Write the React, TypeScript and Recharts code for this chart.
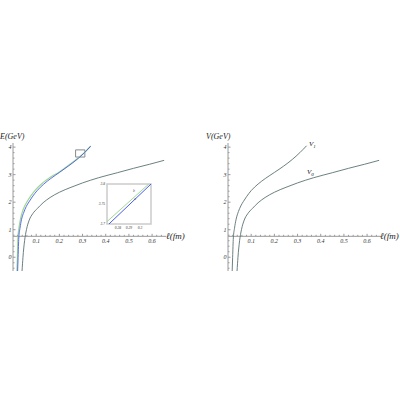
import React from 'react';
import { LineChart, Line, XAxis, YAxis, ReferenceLine, ReferenceArea } from 'recharts';

// separation l (fm) against energy (GeV)
const lengthLabels = [0.1, 0.2, 0.3, 0.4, 0.5, 0.6];
const lengthMinor = [
  0.02, 0.04, 0.06, 0.08, 0.1, 0.12, 0.14, 0.16, 0.18, 0.2, 0.22, 0.24, 0.26, 0.28, 0.3, 0.32,
  0.34, 0.36, 0.38, 0.4, 0.42, 0.44, 0.46, 0.48, 0.5, 0.52, 0.54, 0.56, 0.58, 0.6, 0.62, 0.64,
];
const energyLabels = [0, 1, 2, 3, 4];
const energyMinor = [
  -0.4, -0.2, 0, 0.2, 0.4, 0.6, 0.8, 1, 1.2, 1.4, 1.6, 1.8, 2, 2.2, 2.4, 2.6, 2.8, 3, 3.2, 3.4,
  3.6, 3.8, 4,
];

const v0Curve = [
  { l: 0.039, e: -0.5 }, { l: 0.043, e: 0 }, { l: 0.05, e: 0.6 }, { l: 0.058, e: 1.0 },
  { l: 0.07, e: 1.35 }, { l: 0.085, e: 1.58 }, { l: 0.105, e: 1.77 }, { l: 0.13, e: 1.98 },
  { l: 0.16, e: 2.17 }, { l: 0.2, e: 2.36 }, { l: 0.25, e: 2.54 }, { l: 0.3, e: 2.7 },
  { l: 0.37, e: 2.89 }, { l: 0.45, e: 3.07 }, { l: 0.52, e: 3.23 }, { l: 0.59, e: 3.38 },
  { l: 0.652, e: 3.52 },
];
const v1Curve = [
  { l: 0.018, e: -0.5 }, { l: 0.02, e: 0 }, { l: 0.023, e: 0.7 }, { l: 0.028, e: 1.05 },
  { l: 0.035, e: 1.38 }, { l: 0.045, e: 1.66 }, { l: 0.055, e: 1.86 }, { l: 0.066, e: 2.02 },
  { l: 0.08, e: 2.2 }, { l: 0.1, e: 2.42 }, { l: 0.13, e: 2.66 }, { l: 0.161, e: 2.86 },
  { l: 0.2, e: 3.08 }, { l: 0.24, e: 3.31 }, { l: 0.277, e: 3.55 }, { l: 0.31, e: 3.8 },
  { l: 0.339, e: 4.05 },
];
const blueCurve = [
  { l: 0.02, e: -0.5 }, { l: 0.022, e: 0 }, { l: 0.025, e: 0.7 }, { l: 0.03, e: 1.05 },
  { l: 0.037, e: 1.38 }, { l: 0.047, e: 1.64 }, { l: 0.057, e: 1.84 }, { l: 0.069, e: 2.01 },
  { l: 0.083, e: 2.19 }, { l: 0.103, e: 2.41 }, { l: 0.133, e: 2.66 }, { l: 0.163, e: 2.86 },
  { l: 0.2, e: 3.08 }, { l: 0.24, e: 3.32 }, { l: 0.277, e: 3.56 }, { l: 0.31, e: 3.81 },
  { l: 0.335, e: 4.03 },
];
const greenCurve = [
  { l: 0.017, e: -0.5 }, { l: 0.019, e: 0 }, { l: 0.021, e: 0.7 }, { l: 0.026, e: 1.08 },
  { l: 0.033, e: 1.42 }, { l: 0.042, e: 1.69 }, { l: 0.052, e: 1.89 }, { l: 0.063, e: 2.05 },
  { l: 0.077, e: 2.23 }, { l: 0.097, e: 2.45 }, { l: 0.128, e: 2.7 }, { l: 0.158, e: 2.89 },
  { l: 0.2, e: 3.1 }, { l: 0.24, e: 3.34 }, { l: 0.277, e: 3.58 }, { l: 0.31, e: 3.82 },
  { l: 0.335, e: 4.04 },
];

const insetLengthLabels = [0.28, 0.29, 0.3];
const insetEnergyLabels = [3.7, 3.75, 3.8];
const insetGreen = [{ l: 0.27, e: 3.706 }, { l: 0.308, e: 3.8 }];
const insetBlue = [{ l: 0.2718, e: 3.7 }, { l: 0.31, e: 3.8 }];

const L_DOMAIN: [number, number] = [0, 0.66];
const E_DOMAIN: [number, number] = [-0.5, 4.15];
const AXIS_CROSS = 0.76;
const PLOT_W = 153;
const PLOT_H = 128;
const PLOT_TOP = 143;
const Y_AXIS_W = 13;

const AXIS_COLOR = '#9a9a9a';
const CURVE_COLOR = '#5b7272';
const BLUE = '#4a5ce6';
const GREEN = '#9fd890';
const FONT = '"Liberation Serif", "DejaVu Serif", serif';

const axisY =
  PLOT_TOP + ((E_DOMAIN[1] - AXIS_CROSS) / (E_DOMAIN[1] - E_DOMAIN[0])) * PLOT_H;

function LengthTick(props: any) {
  const { x, payload } = props;
  const major = lengthLabels.includes(payload.value);
  return (
    <g>
      <line x1={x} x2={x} y1={axisY} y2={axisY - (major ? 2.5 : 1.5)} stroke={AXIS_COLOR} />
      {major && (
        <text x={x} y={axisY + 7} textAnchor="middle" fontSize={6} fontStyle="italic" fontFamily={FONT} fill="#333">
          {payload.value}
        </text>
      )}
    </g>
  );
}

function EnergyTick(props: any) {
  const { x, y, payload } = props;
  const major = energyLabels.includes(payload.value);
  return (
    <g>
      <line x1={x} x2={x + (major ? 2.5 : 1.5)} y1={y} y2={y} stroke={AXIS_COLOR} />
      {major && (
        <text x={x - 1.5} y={y + 2} textAnchor="end" fontSize={6} fontStyle="italic" fontFamily={FONT} fill="#333">
          {payload.value}
        </text>
      )}
    </g>
  );
}

function Panel({ children }: { children: React.ReactNode }) {
  return (
    <LineChart
      width={Y_AXIS_W + PLOT_W + 20}
      height={PLOT_TOP + PLOT_H + 1}
      margin={{ top: PLOT_TOP, right: 20, bottom: 0, left: 0 }}
    >
      <XAxis
        type="number"
        dataKey="l"
        domain={L_DOMAIN}
        ticks={lengthMinor}
        interval={0}
        allowDataOverflow
        axisLine={false}
        tickLine={false}
        height={1}
        tick={<LengthTick />}
      />
      <YAxis
        type="number"
        dataKey="e"
        domain={E_DOMAIN}
        ticks={energyMinor}
        interval={0}
        allowDataOverflow
        width={Y_AXIS_W}
        tickSize={0}
        tickMargin={0}
        axisLine={{ stroke: AXIS_COLOR }}
        tick={<EnergyTick />}
      />
      <ReferenceLine y={AXIS_CROSS} stroke={AXIS_COLOR} />
      {children}
    </LineChart>
  );
}

const insetTick = { fontSize: 3.6, fontStyle: 'italic', fontFamily: FONT, fill: '#333' };

function InsetChart() {
  return (
    <LineChart width={60} height={54} margin={{ top: 2, right: 4, bottom: 0, left: 0 }}>
      <XAxis
        type="number"
        dataKey="l"
        domain={[0.27, 0.31]}
        ticks={insetLengthLabels}
        interval={0}
        allowDataOverflow
        axisLine={false}
        tickLine={false}
        tickSize={0}
        height={12}
        tickMargin={2}
        tick={insetTick}
      />
      <YAxis
        type="number"
        dataKey="e"
        domain={[3.7, 3.8]}
        ticks={insetEnergyLabels}
        interval={0}
        allowDataOverflow
        width={12}
        axisLine={false}
        tickLine={false}
        tickSize={0}
        tickMargin={2}
        tick={insetTick}
      />
      <ReferenceArea x1={0.27} x2={0.31} y1={3.7} y2={3.8} fill="#fff" fillOpacity={1} stroke="#cccccc" strokeWidth={1.5} />
      <Line data={insetGreen} dataKey="e" stroke={GREEN} strokeWidth={1} dot={false} isAnimationActive={false} />
      <Line data={insetBlue} dataKey="e" stroke={BLUE} strokeWidth={1} dot={false} isAnimationActive={false} />
    </LineChart>
  );
}

const labelStyle: React.CSSProperties = {
  position: 'absolute',
  fontFamily: FONT,
  fontStyle: 'italic',
  color: '#222',
  whiteSpace: 'nowrap',
  lineHeight: 1,
};

export default function App() {
  return (
    <div style={{ position: 'absolute', left: 0, top: 0, width: 400, height: 400, background: '#fff', overflow: 'hidden' }}>
      <div style={{ position: 'absolute', left: 0, top: 0 }}>
        <Panel>
          <ReferenceArea x1={0.27} x2={0.31} y1={3.64} y2={3.9} fill="none" stroke="#8a8a8a" strokeWidth={1} />
          <Line data={v0Curve} dataKey="e" type="monotone" stroke={CURVE_COLOR} strokeWidth={0.9} dot={false} isAnimationActive={false} />
          <Line data={greenCurve} dataKey="e" type="monotone" stroke={GREEN} strokeWidth={1.2} dot={false} isAnimationActive={false} />
          <Line data={blueCurve} dataKey="e" type="monotone" stroke={BLUE} strokeWidth={0.9} dot={false} isAnimationActive={false} />
        </Panel>
      </div>
      <div style={{ position: 'absolute', left: 215, top: 0 }}>
        <Panel>
          <Line data={v0Curve} dataKey="e" type="monotone" stroke={CURVE_COLOR} strokeWidth={0.9} dot={false} isAnimationActive={false} />
          <Line data={v1Curve} dataKey="e" type="monotone" stroke={CURVE_COLOR} strokeWidth={0.9} dot={false} isAnimationActive={false} />
        </Panel>
      </div>
      <div style={{ position: 'absolute', left: 95, top: 182 }}>
        <InsetChart />
      </div>
      <div style={{ ...labelStyle, left: 133, top: 189, fontSize: 4, color: '#555' }}>b</div>
      <div style={{ ...labelStyle, left: 134, top: 197, fontSize: 4, color: '#555' }}>a</div>

      <div style={{ ...labelStyle, left: 0, top: 133, fontSize: 8 }}>E(GeV)</div>
      <div style={{ ...labelStyle, left: 166, top: 232, fontSize: 9 }}>ℓ(fm)</div>
      <div style={{ ...labelStyle, left: 206, top: 133, fontSize: 8 }}>V(GeV)</div>
      <div style={{ ...labelStyle, left: 380, top: 232, fontSize: 9 }}>ℓ(fm)</div>
      <div style={{ ...labelStyle, left: 309, top: 141, fontSize: 7 }}>
        V<sub style={{ fontSize: 5 }}>1</sub>
      </div>
      <div style={{ ...labelStyle, left: 307, top: 169, fontSize: 7 }}>
        V<sub style={{ fontSize: 5 }}>0</sub>
      </div>
    </div>
  );
}
